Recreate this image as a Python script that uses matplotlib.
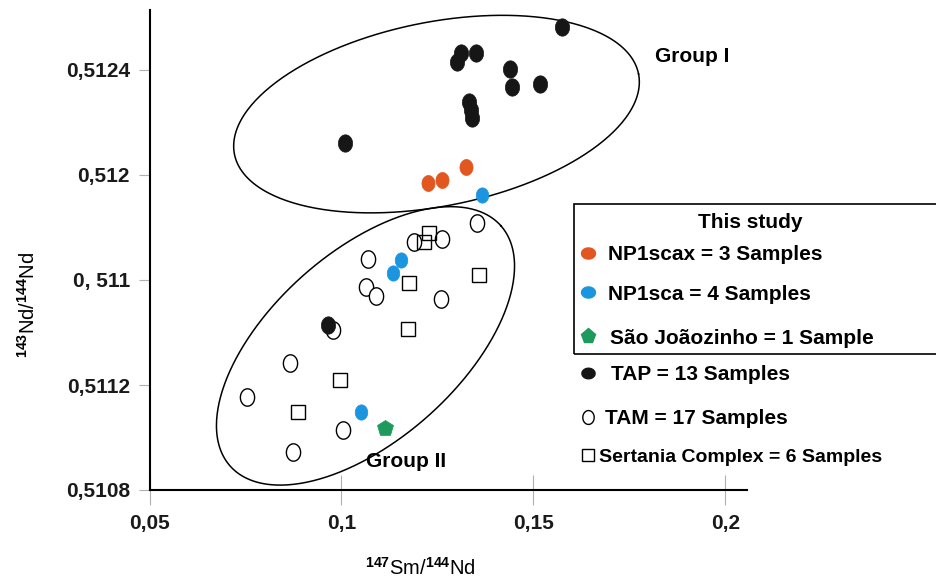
import numpy as np
import matplotlib
matplotlib.use('Agg')
import matplotlib.pyplot as plt
from matplotlib.path import Path
from matplotlib.lines import Line2D

plt.rcParams['font.family'] = ['Liberation Sans', 'DejaVu Sans']
plt.rcParams['mathtext.fontset'] = 'custom'
plt.rcParams['mathtext.rm'] = 'Liberation Sans'
plt.rcParams['mathtext.bf'] = 'Liberation Sans:bold'

# ----------- DATA (147Sm/144Nd, 143Nd/144Nd) ------------
np1scax_x = [0.1224, 0.1263, 0.1323]
np1scax_y = [0.511970, 0.511981, 0.512031]

np1sca_x = [0.1367, 0.1156, 0.1135, 0.1052]
np1sca_y = [0.511924, 0.511676, 0.511627, 0.511097]

sj_x = [0.1112]
sj_y = [0.511036]

tap_x = [0.1573, 0.1310, 0.1302, 0.1349, 0.1438, 0.1443, 0.1518,
         0.1333, 0.1336, 0.1341, 0.1010, 0.0964]
tap_y = [0.512564, 0.512465, 0.512431, 0.512465, 0.512404, 0.512335, 0.512347,
         0.512278, 0.512248, 0.512217, 0.512122, 0.511429]

tam_x = [0.1354, 0.1190, 0.1263, 0.1070, 0.1063, 0.1089, 0.1260,
         0.0979, 0.0867, 0.0753, 0.1005, 0.0875]
tam_y = [0.511817, 0.511745, 0.511756, 0.511680, 0.511573, 0.511539, 0.511528,
         0.511410, 0.511284, 0.511154, 0.511029, 0.510945]

sert_x = [0.1229, 0.1216, 0.1177, 0.1357, 0.1174, 0.0995, 0.0888]
sert_y = [0.511779, 0.511745, 0.511589, 0.511619, 0.511413, 0.511219, 0.511097]

yticks = [0.5108, 0.5112, 0.5116, 0.5120, 0.5124]
ytick_labels = ['0,5108', '0,5112', '0, 511', '0,512', '0,5124']
xticks = [0.05, 0.10, 0.15, 0.20]
xtick_labels = ['0,05', '0,1', '0,15', '0,2']

# group outlines: centre (data), semi-axes (px), angle (deg)
groups = [('Group I', (0.12474, 0.512232), 206, 92, 11.25, (0.1914, 0.512450)),
          ('Group II', (0.10625, 0.511349), 181, 94, 41.6, (0.1169, 0.510907))]

C_ORANGE = '#E2561F'
C_BLUE = '#1C95E0'
C_GREEN = '#1E9B5C'
C_BLACK = '#161616'

# tall ellipse marker
t = np.linspace(0, 2*np.pi, 60)
ell = Path(np.column_stack([0.82*np.cos(t), np.sin(t)]), closed=True)
wide = Path(np.column_stack([np.cos(t), 0.8*np.sin(t)]), closed=True)

W, H = 936, 579
fig = plt.figure(figsize=(W/100, H/100), dpi=100)
ax = fig.add_axes([149.5/W, 1-490/H, (747-149.5)/W, 480/H])
ax.set_xlim(0.05, 0.2056)
ax.set_ylim(0.5108, 0.5108 + 480*0.0004/105)

for name, (cx, cy), a, b, ang, tpos in groups:
    th = np.deg2rad(ang)
    tt = np.linspace(0, 2*np.pi, 400)
    px = a*np.cos(tt)*np.cos(th) - b*np.sin(tt)*np.sin(th)
    py = a*np.cos(tt)*np.sin(th) + b*np.sin(tt)*np.cos(th)
    c0 = ax.transData.transform((cx, cy))
    pts = ax.transData.inverted().transform(np.column_stack([c0[0]+px, c0[1]+py]))
    ax.plot(pts[:, 0], pts[:, 1], color='k', lw=1.1, zorder=1)
    ax.text(tpos[0], tpos[1], name, fontsize=15, fontweight='bold', ha='center', va='center')

ax.plot(tam_x, tam_y, ls='none', marker=ell, ms=12.5, mfc='white', mec='k', mew=1.0, zorder=2)
ax.plot(sert_x, sert_y, ls='none', marker='s', ms=9.5, mfc='none', mec='k', mew=1.0, zorder=3)
ax.plot(tap_x, tap_y, ls='none', marker=ell, ms=12.5, mfc=C_BLACK, mec=C_BLACK, mew=0.5, zorder=4)
ax.plot(np1scax_x, np1scax_y, ls='none', marker=ell, ms=11.5, mfc=C_ORANGE, mec=C_ORANGE, mew=0.5, zorder=5)
ax.plot(np1sca_x, np1sca_y, ls='none', marker=ell, ms=11, mfc=C_BLUE, mec=C_BLUE, mew=0.5, zorder=5)
ax.plot(sj_x, sj_y, ls='none', marker='p', ms=12, mfc=C_GREEN, mec=C_GREEN, mew=0.5, zorder=5)

ax.spines['top'].set_visible(False)
ax.spines['right'].set_visible(False)
ax.spines['left'].set_linewidth(1.5)
ax.spines['bottom'].set_linewidth(1.5)
ax.set_yticks(yticks)
ax.set_yticklabels(ytick_labels, fontsize=15, fontweight='bold', color='#1a1a1a')
ax.set_xticks(xticks)
ax.set_xticklabels(xtick_labels, fontsize=15, fontweight='bold', color='#1a1a1a')
ax.tick_params(axis='y', direction='out', length=8, width=0.8, color='#b0b0b0', pad=6)
ax.tick_params(axis='x', direction='inout', length=22, width=0.8, color='#b0b0b0', pad=6)

def fp(x, y):
    return (x/W, 1-y/H)

fig.text(*fp(28, 305), r'$^{\mathbf{143}}$Nd/$^{\mathbf{144}}$Nd', rotation=90, fontsize=14.5,
         ha='center', va='center')
fig.text(*fp(420, 568), r'$^{\mathbf{147}}$Sm/$^{\mathbf{144}}$Nd', fontsize=14.5,
         ha='center', va='center')

# ----------- LEGEND ------------
fig.add_artist(plt.Rectangle(fp(574, 354), 400/W, 150/H, transform=fig.transFigure,
                             fill=False, lw=1.2, ec='k'))
fig.text(*fp(750, 223), 'This study', fontsize=15, fontweight='bold', ha='center', va='center')
entries = [(253, 608, wide, 10, C_ORANGE, C_ORANGE, 'NP1scax = 3 Samples', 15),
           (292, 608, wide, 10, C_BLUE, C_BLUE, 'NP1sca = 4 Samples', 15),
           (336, 610, 'p', 11, C_GREEN, C_GREEN, 'São Joãozinho = 1 Sample', 15),
           (373, 611, wide, 9.5, C_BLACK, C_BLACK, 'TAP = 13 Samples', 15),
           (417, 605, ell, 10, 'white', 'k', 'TAM = 17 Samples', 15),
           (455, 599, 's', 9, 'white', 'k', 'Sertania Complex = 6 Samples', 14)]
for ypix, xtxt, mk, ms, fc, ec, lab, fs in entries:
    fig.add_artist(Line2D([fp(588, ypix)[0]], [fp(588, ypix)[1]], transform=fig.transFigure,
                          marker=mk, ms=ms, mfc=fc, mec=ec, mew=1.0, ls='none'))
    fig.text(*fp(xtxt, ypix + 2), lab, fontsize=fs, fontweight='bold', ha='left', va='center')

fig.savefig('out.png', dpi=100)
